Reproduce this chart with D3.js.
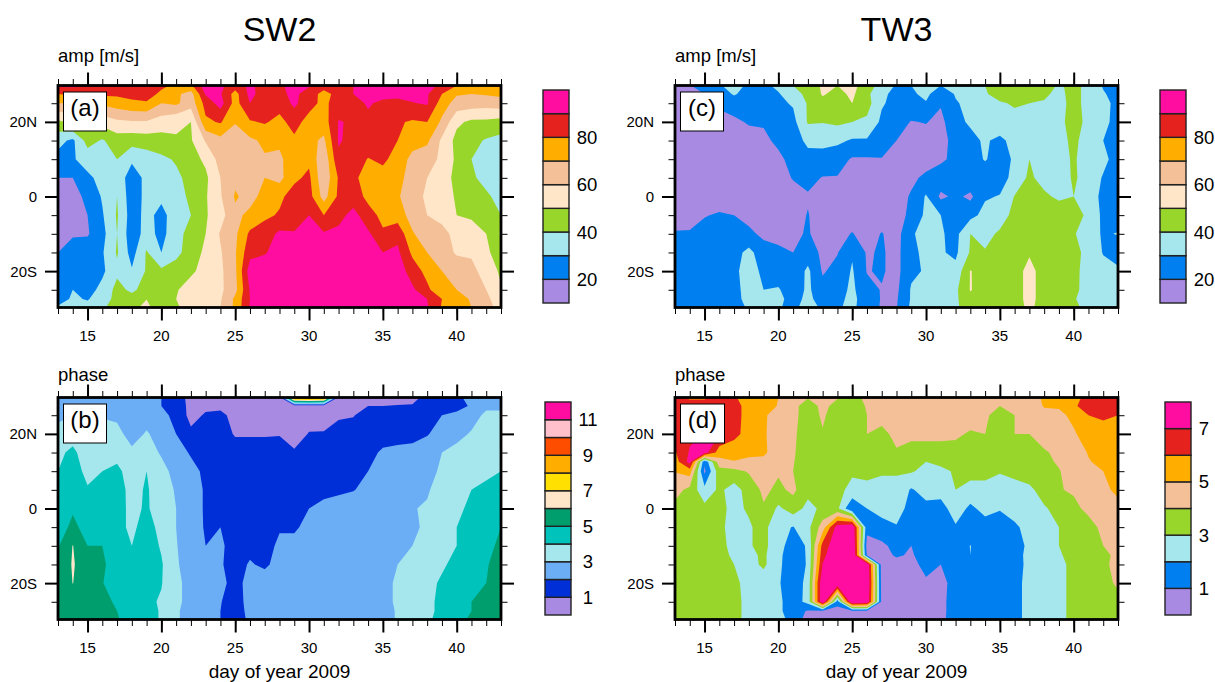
<!DOCTYPE html>
<html>
<head>
<meta charset="utf-8">
<script src="https://d3js.org/d3.v7.min.js"></script>
<style>
  body { margin: 0; background: #fff; }
  text { font-family: "Liberation Sans", Helvetica, Arial, sans-serif; fill: #000; }
</style>
</head>
<body>
<svg id="chart" width="1215" height="682"></svg>
<script>
const days = d3.range(13, 44);
const xMajor = [15, 20, 25, 30, 35, 40];
const yMajor = [20, 0, -20];
const yMinor = [25, 15, 10, 5, -5, -10, -15, -25];

const lats = [29.75, 27.5, 25, 20, 15, 10, 5, 0, -5, -10, -15, -20, -25, -27.5, -29.75];
const latsD = [29.75, 27.5, 25, 20, 15, 12.5, 10, 5, 0, -5, -10, -12.5, -15, -20, -25, -27.5, -29.75];

const ampLevels = [20, 30, 40, 50, 60, 70, 80, 90];
const ampColors = ['#a98ae3', '#0080f0', '#a6e6ed', '#98d62b', '#ffe6c8', '#f4c097', '#ffae00', '#e6221f', '#ff0da0'];
const ampLabels = [20, 40, 60, 80];

const phaseLevelsB = [1, 2, 3, 4, 5, 6, 7, 8, 9, 10, 11];
const phaseColorsB = ['#a98ae3', '#002fd8', '#6baef6', '#a6e6ed', '#00c3bc', '#009e6d', '#ffe6c8', '#ffe000', '#ffae00', '#ff4d00', '#ffc0cb', '#ff0da0'];
const phaseLabelsB = [1, 3, 5, 7, 9, 11];

const phaseLevelsD = [1, 2, 3, 4, 5, 6, 7];
const phaseColorsD = ['#a98ae3', '#0080f0', '#a6e6ed', '#98d62b', '#f4c097', '#ffae00', '#e6221f', '#ff0da0'];
const phaseLabelsD = [1, 3, 5, 7];

// values, one row per latitude, one column per day
const ampSW2 = [
  [92,92,91,91,91,91,91,82,78,78,96,92,85,92,86,89,92,91,85,85,90,93,94,94,94,93,88,80,79,80,82],
  [80,82,82,82,82,83,84,78,72,66,91,91,76,93,85,88,92,86,76,84,90,92,93,93,93,91,80,71,70,71,72],
  [70,70,70,72,75,78,79,70,72,64,84,94,76,90,85,84,92,84,77,86,87,91,88,87,89.5,91,75,66,65,64,66],
  [48,52,52,54,58,59,59,55,51,50,78,81,70.5,79,81,77,84,76,75,90.5,89,88,86,81,79,80,68,52,48,48,46],
  [33,28,44,39,45,44,45,46,49.5,49,61,67,66,68,72,71,78,73,68,91,87,86,84,80,74,72,58,47,43,39,37],
  [27,29,34,36,40,32,35,38,41,46,52,64,68,69,69,69,73,78,62,88,85,79.5,82,76,67,64,58,48,40,38,36],
  [20,20,28,33,37,24,33,37,38,43,48,60,68,69,70,67,78,82,62,81,81,78,76,73,66,60,55,47,41,38,35],
  [15,17,22,31,40,24,33,32,36,42,49,59,71,67,73,78,84,84,66,82,84,78,75,71,65,58,54,49,46,41,38],
  [14,15,20,29,41,25,33,27,35,40,49,56,68,72,78,81,84,90,80,86,94,83,78,75,66,60,58,50,49,44,40],
  [14,19,19,27,40,24,34,27,36,44,50,61,68,82,85,92,91,95,91,93,97,92,81,87,71,64,62,58,53,50,39],
  [20,24,26,29,41,26,41,30,37,45,52,59,69,87,89,95,98,98,98,98,97,96,90,92,78,70,64,59,59,53,42],
  [21,22,24,28,38,31,41,42,45,48,54,58,68,95,97,98,98,98,98,98,98,98,98,96,85,77,70,65,62,57,48],
  [22,30,26,33,43,38,44,45,49,55,56,58,67,91,99,99,99,99,99,99,99,99,99,99,92,82,73,70,65,60,51],
  [24,32,29,37,42,44,49.9,47,50,56,57,59,72,90,99,99,99,99,99,99,99,99,99,99,97,90,80,74,69,62,55],
  [32,33,35,39,43,48,52,45,49,53,56,60,72,91,99,99,99,99,99,99,99,99,99,99,97,91,79,75,70,62,58]
];

const ampTW3 = [
  [16,19,30.5,29,34,28,27,33,40,46,51,50,53,45,36,29,30,36,30,31,37,40,44,45,44,44,39,42,38,29,25],
  [16,17,20,25,31,26,27,29,37,42,51,47,52,42,33,26,28,33,22,31,35,39,44,44,41,42,37,44,36,31,26],
  [18,16,16,22,25,26,27,28,31,41,47,46,50,44,31,27,27,29,21,29,33,36,39,41,40,39,36,44,36,33,27],
  [17,16,16,16,18,21,21,25,27,41,40.5,42,40,38,28,24,19.5,20.5,17,28,31,34,36,37,38,38,38,43,38,33,26],
  [15,15,15,15,15,16,18,22,26,32,33,32,29,29,26,20,17,16,16,24,28,31,28,33,36,37,37,42,36,30,24],
  [15,15,15,15,15,15,16,18,23,27,26,24,19,19,19.5,17,15,16,18,23,27,30.5,27,31,40,37,37,41,36,33,25],
  [15,15,15,15,15,15,15,17,20.5,23,19.5,19.5,18,17,16,16,18,22,26,25,27,26,26,33,42,36,36,41,37,29,25],
  [15,15,15,15,15,15,15,15,17,19,17,16,15,15,15,16,21,31,18,22,18,29,30.5,40.5,45,42,38,40,36,27,25],
  [15,16,19.5,21,20,17,19,17,16,20.5,15,15,15,15,15,15,23,32,30,24,27,33,37,42,45,46,47,46,37,28,25],
  [21,21,23,23,23,22,18,17,18,21,15,17,20.5,16,20.5,16,29,33,31,27,40,38,41,45,46,47,47,41,34,29,30.5],
  [24,24,24,25,26,33,24,22,20,25,18,19.5,29,19,21,17,28,32,31,28,41,40.5,45,46,49,47,47,44,36,29.5,25],
  [25,25,26,26,27,36,27,24,23,32,19,23,31,19.5,21,17,28,31,34,33,50.5,45,46,46,53,46,46,44,34,33,32],
  [25,25,25,25,26,35,30,31,24,32,23,26,32,23,19.5,18,31,35,36,38,50.5,46,46,46,53,46,46,43,35,34,33],
  [25,25,25,25,27,33,36,34,24,34,23,27,33,24,19.5,19,31,36,37,38,48,47,46,46,53,46,46,41,35,34,33],
  [25,26,26,26,27,31,36,31,27,35,28,29,32,25,19,19.5,32,37,38,39,43,46,46,46,52,46,46,43,36,34,33]
];

const phaseSW2 = [
  [2.5,2.5,2.5,2.5,2.5,2.5,2.3,2,1.3,.8,.6,.5,.4,.4,.4,.4,9.5,10,9.5,.5,.5,.5,.5,.6,.8,1.2,1.5,1.8,2.3,2.5,2.6],
  [2.6,2.6,2.6,2.6,2.5,2.5,2.3,2,1.4,.8,.8,.7,.5,.4,.4,.4,.4,.4,.4,.5,.6,1,1,1.05,1.05,1.2,1.4,1.7,2.1,2.8,2.8],
  [2.8,3,3,2.9,2.8,2.7,2.6,2.3,1.7,.7,1.1,1.3,.6,.8,.8,.7,.5,.6,.7,.9,.95,1.4,1.5,1.5,1.5,1.6,2,2.2,2.6,3.2,3.2],
  [3.3,3.6,3.6,3.5,3.3,2.6,3.1,2.6,2,1.2,1.4,1.5,.9,.9,.9,.95,.6,1.05,1.05,1.3,1.4,1.6,1.7,1.7,1.7,1.95,2.3,2.7,3.1,3.4,3.4],
  [3.8,4.2,3.5,3.6,3.7,3.2,3.4,2.9,2.4,1.9,1.6,1.6,1.5,1.5,1.5,1.4,1.1,1.3,1.4,1.5,1.6,1.8,2.1,2.2,2.3,2.4,3,3.3,3.5,3.6,3.7],
  [4,4.5,3.7,4,4.2,3.6,4,3.3,2.7,2.3,1.8,1.6,1.6,1.6,1.5,1.5,1.3,1.4,1.5,1.6,1.7,2,2.3,2.5,2.6,2.8,3.1,3.5,3.6,3.8,4],
  [4.3,4.6,4.1,4.4,4.4,3.7,4.1,3.5,2.9,2.4,1.9,1.7,1.6,1.6,1.6,1.6,1.5,1.6,1.7,1.8,1.95,2.3,2.6,2.7,2.8,2.9,3.4,3.8,4,4.2,4.4],
  [4.4,4.9,4.5,4.4,4.3,3.8,4.1,3.6,3,2.4,1.9,1.7,1.7,1.6,1.6,1.6,1.8,2,2.3,2.5,2.6,2.7,2.8,2.9,2.95,3.1,3.4,3.8,4.2,4.4,4.6],
  [4.6,5.2,4.7,4.5,4.3,3.8,4.4,3.7,3,2.5,1.9,2,1.7,1.6,1.7,1.9,1.9,2.2,2.4,2.6,2.7,2.7,2.7,2.8,2.9,3.1,3.5,4,4.1,4.5,5],
  [4.9,6.03,5,5,4.3,4,4.5,3.9,3.05,2.5,2,2.2,1.5,1.7,1.6,2.2,2.2,2.6,2.7,2.7,2.8,2.8,2.8,2.8,3,3.5,3.8,4,4.3,4.6,5.3],
  [5.1,6.1,5.4,5.2,4.4,4.2,4.5,4.1,3.1,2.6,2.4,2.1,1.6,2.1,1.8,2.4,2.5,2.7,2.7,2.8,2.8,2.8,2.8,3,3.2,3.5,3.9,4.2,4.5,4.9,5.5],
  [5.1,6.02,5.4,5.05,4.4,4.2,4.3,4.05,3.2,2.7,2.5,2.3,1.6,2.4,2.6,2.7,2.7,2.8,2.8,2.8,2.8,2.8,2.8,3.1,3.4,3.8,4.1,4.4,4.6,5,5.6],
  [5.2,5.5,5.4,5.2,4.9,4.4,4.2,3.9,3.2,2.7,2.5,2.05,1.5,2.4,2.6,2.7,2.7,2.8,2.8,2.8,2.8,2.8,2.8,3.1,3.4,3.8,4.2,4.6,5,5.4,5.7],
  [5.2,5.5,5.4,5.2,5,4.5,4.2,3.95,3.1,2.7,2.4,2,1.5,2.3,2.6,2.7,2.7,2.8,2.8,2.8,2.8,2.8,2.8,3.05,3.4,3.8,4.2,4.7,5,5.4,5.6],
  [5.2,5.5,5.4,5.2,5.1,4.5,4.2,3.95,3.1,2.7,2.4,2,1.5,2.2,2.6,2.7,2.7,2.8,2.8,2.8,2.8,2.8,2.8,3.05,3.4,3.9,4.2,4.8,5.1,5.4,5.6]
];

const phaseTW3 = [
  [6.1,5.9,5.9,6.5,6.1,5.6,5.3,5,4.6,4.1,4.3,4.1,3.7,4.2,4.4,4.5,4.5,4.5,4.5,4.5,4.5,4.5,4.5,4.5,4.7,5.1,5.4,5.8,6.2,6.5,6.5],
  [6.3,6.3,6.3,6.8,6.3,5.7,5.4,4.95,4.5,3.2,4.4,3.5,3.4,4.1,4.4,4.5,4.5,4.5,4.5,4.5,4.5,4.4,4,4.3,4.6,5.05,5.1,5.9,6.3,6.6,6.6],
  [6.5,6.7,6.7,6.9,6.3,5.7,5.1,4.7,4.4,3.3,4.2,3.3,3.2,4,4.4,4.5,4.4,4.4,4.4,4.4,4.4,4.2,3.5,4,4.5,4.8,4.8,5.2,6,6.2,6],
  [6.4,6.8,7,7,6.3,5.6,5.1,4.6,4.2,3.4,3.9,3.2,3.2,4,3.7,4.3,4.2,4.2,4.2,4.15,3.9,4,3.4,4,4,4.4,4.6,4.9,5.4,5.5,5.5],
  [5.9,7.1,7.5,5.5,5.4,5.2,5.2,4.4,4.1,3.5,3.3,3.2,3.2,3.4,3.5,3.9,3.7,3.7,3.7,3.7,3.7,3.7,3.5,3.5,3.5,3.9,4.2,4.6,5.05,5.4,5.5],
  [5.5,7.4,1.2,4.6,4.95,4.8,4.7,4.3,4.05,3.5,3.3,3.2,3.2,3.3,3.3,3.5,3.4,3,3.2,3.4,3.6,3.6,3.3,3.4,3.5,3.8,4.1,4.5,4.95,5.2,5.4],
  [5.05,5.5,.8,3.6,3.7,4.1,4.2,4.1,4,3.4,3.2,3.2,3.1,3.2,3.1,3.1,3.1,2.7,2.8,3.1,3.4,3.4,3.1,3.3,3.5,3.7,3.95,4.4,4.7,5,5.3],
  [4.4,3.7,2.3,3.2,2.6,3.4,4.2,3.8,4.2,3.3,3.3,3.2,2.8,2.8,2.7,2.7,1.9,2.4,2.4,3,2.6,2.6,2.4,2.6,2.8,3.4,3.95,4.1,4.5,4.7,5.3],
  [3.7,3.4,3.3,3.2,2.8,3.1,3.9,2.8,3.5,2.7,3.2,3.2,1,2,2.4,2.6,1.5,1.7,1.6,2.5,1.8,2.3,2.1,2.5,2.7,2.9,3.3,3.8,4.2,4.4,4.6],
  [3.5,3.5,3.5,3.3,2.5,2.9,3.3,2.3,1.95,2.7,4.5,7.5,8,1.3,1.6,1.9,1.4,1.2,1.3,1.9,1.4,1.6,1.3,1.8,2.4,2.7,3,3.4,3.7,4.2,4.3],
  [3.5,3.5,3.5,3.3,2.7,2.9,3.3,2.3,1.6,2.1,6.4,7.8,8.5,.6,.8,1.3,1,1.6,1.5,1.5,2.02,1.6,1.4,1.6,2.2,2.7,3,3.4,3.7,4,4.2],
  [3.5,3.5,3.5,3.4,2.8,2.7,3.2,2.2,1.5,2.1,6.7,8,8.5,.9,.7,1.1,.9,1.4,1.4,1.5,2,1.6,1.4,1.6,2.3,2.6,2.9,3.3,3.6,3.9,4.1],
  [3.5,3.5,3.5,3.4,3,2.6,3.2,2.2,1.4,2.1,7.05,8.2,8.5,8,.5,.7,.8,1.2,1,1.5,1.5,1.5,1.4,1.7,2.2,2.5,2.8,3.2,3.5,3.8,4.3],
  [3.5,3.5,3.5,3.5,3.2,2.7,2.4,2.1,1.4,2.3,8,8,8.5,8.3,.6,.5,.6,.9,.6,1.5,1.5,1.5,1.5,1.8,2.2,2.5,2.8,3.2,3.4,3.6,4.2],
  [3.5,3.5,3.5,3.5,3.2,2.8,2.4,2.2,1.5,2.3,8,1.4,8.3,8,.7,.5,.5,.6,.7,1.5,1.5,1.5,1.5,1.8,2.2,2.5,2.8,3.2,3.4,3.5,3.6],
  [3.5,3.5,3.5,3.5,3.2,2.8,2.4,2.2,1.5,.9,.7,.6,.7,.7,.95,.5,.5,.6,.7,1.5,1.5,1.5,1.5,1.8,2.2,2.5,2.8,3.2,3.4,3.5,3.5],
  [3.5,3.5,3.5,3.4,3.2,2.8,2.5,2.4,1.6,.6,.6,.6,.6,.6,.95,.5,.5,.6,.8,1.4,1.5,1.5,1.5,1.8,2.2,2.5,2.8,3.2,3.4,3.5,3.5]
];

const svg = d3.select('#chart');
const panelW = 443;
const panelH = 222;

function latLabel(d) {
  if (d === 0) return '0';
  return Math.abs(d) + (d > 0 ? 'N' : 'S');
}

function drawPanel(opt) {
  const { id, left, top, rows, rowLats, levels, colors } = opt;
  const x = d3.scaleLinear().domain([13, 43]).range([left, left + panelW]);
  const y = d3.scaleLinear().domain([29.75, -29.75]).range([top, top + panelH]);
  const rowToLat = d3.scaleLinear().domain(d3.range(rowLats.length)).range(rowLats);

  svg.append('clipPath').attr('id', 'clip-' + id)
    .append('rect')
    .attr('x', left).attr('y', top)
    .attr('width', panelW).attr('height', panelH);

  const g = svg.append('g').attr('clip-path', `url(#clip-${id})`);

  g.append('rect')
    .attr('x', left).attr('y', top)
    .attr('width', panelW).attr('height', panelH)
    .attr('fill', colors[0]);

  const contours = d3.contours()
    .size([days.length, rowLats.length])
    .thresholds(levels)(rows.flat());

  const path = d3.geoPath(d3.geoTransform({
    point(px, py) {
      this.stream.point(x(days[0] + px - 0.5), y(rowToLat(py - 0.5)));
    }
  }));

  g.selectAll('path')
    .data(contours)
    .enter()
    .append('path')
    .attr('d', path)
    .attr('fill', (d, i) => colors[i + 1]);

  // major and minor ticks on all four sides
  const sides = [
    { axis: d3.axisBottom(x), at: [0, top + panelH], major: xMajor, minor: days },
    { axis: d3.axisTop(x), at: [0, top], major: xMajor, minor: days },
    { axis: d3.axisLeft(y), at: [left, 0], major: yMajor, minor: yMinor },
    { axis: d3.axisRight(y), at: [left + panelW, 0], major: yMajor, minor: yMinor }
  ];
  sides.forEach(s => {
    const minor = svg.append('g')
      .attr('transform', `translate(${s.at[0]},${s.at[1]})`)
      .call(s.axis.tickValues(s.minor).tickSize(6.5).tickFormat(''));
    minor.select('.domain').remove();
    minor.selectAll('line').attr('stroke-width', 1);
    const major = svg.append('g')
      .attr('transform', `translate(${s.at[0]},${s.at[1]})`)
      .call(s.axis.tickValues(s.major).tickSize(13).tickFormat(''));
    major.select('.domain').remove();
    major.selectAll('line').attr('stroke-width', 2);
  });

  // tick labels
  svg.append('g').selectAll('text')
    .data(xMajor)
    .enter()
    .append('text')
    .attr('x', d => x(d))
    .attr('y', top + panelH + 33)
    .attr('text-anchor', 'middle')
    .attr('font-size', 15)
    .text(d => d);

  svg.append('g').selectAll('text')
    .data(yMajor)
    .enter()
    .append('text')
    .attr('x', left - 21)
    .attr('y', d => y(d) + 5.5)
    .attr('text-anchor', 'end')
    .attr('font-size', 15)
    .text(latLabel);

  svg.append('rect')
    .attr('x', left).attr('y', top)
    .attr('width', panelW).attr('height', panelH)
    .attr('fill', 'none')
    .attr('stroke', '#000')
    .attr('stroke-width', 2.8);

  // panel letter
  svg.append('rect')
    .attr('x', left + 5.5).attr('y', top + 6.5)
    .attr('width', opt.boxW).attr('height', 39)
    .attr('fill', '#fff')
    .attr('stroke', '#000')
    .attr('stroke-width', 1);
  svg.append('text')
    .attr('x', left + 5.5 + opt.boxW / 2)
    .attr('y', top + 30.5)
    .attr('text-anchor', 'middle')
    .attr('font-size', 24)
    .text(opt.letter);

  svg.append('text')
    .attr('x', left)
    .attr('y', opt.subtitleY)
    .attr('font-size', 18.5)
    .text(opt.subtitle);

  if (opt.xlabel) {
    svg.append('text')
      .attr('x', left + panelW / 2)
      .attr('y', top + panelH + 58.5)
      .attr('text-anchor', 'middle')
      .attr('font-size', 19)
      .text(opt.xlabel);
  }

  // colour bar
  const bar = opt.bar;
  const band = d3.scaleBand()
    .domain(d3.range(colors.length))
    .range([bar.y + bar.h, bar.y]);

  svg.append('g').selectAll('rect')
    .data(colors)
    .enter()
    .append('rect')
    .attr('x', bar.x)
    .attr('y', (d, i) => band(i))
    .attr('width', bar.w)
    .attr('height', band.bandwidth())
    .attr('fill', d => d)
    .attr('stroke', '#222')
    .attr('stroke-width', 1.4);

  const fromLevel = d3.scaleLinear()
    .domain([levels[0], levels[1]])
    .range([bar.y + bar.h - band.bandwidth(), bar.y + bar.h - 2 * band.bandwidth()]);

  svg.append('g').selectAll('text')
    .data(opt.labels)
    .enter()
    .append('text')
    .attr('x', bar.labelX)
    .attr('y', d => fromLevel(d) + 6.5)
    .attr('text-anchor', 'middle')
    .attr('font-size', 18.5)
    .text(d => d);
}

drawPanel({
  id: 'a', left: 58, top: 85.5, rows: ampSW2, rowLats: lats,
  levels: ampLevels, colors: ampColors, labels: ampLabels,
  letter: '(a)', boxW: 43, subtitle: 'amp [m/s]', subtitleY: 62,
  bar: { x: 543, y: 90, w: 26, h: 213, labelX: 587 }
});
drawPanel({
  id: 'c', left: 675, top: 85.5, rows: ampTW3, rowLats: lats,
  levels: ampLevels, colors: ampColors, labels: ampLabels,
  letter: '(c)', boxW: 43, subtitle: 'amp [m/s]', subtitleY: 62,
  bar: { x: 1160, y: 90, w: 26, h: 213, labelX: 1204 }
});
drawPanel({
  id: 'b', left: 58, top: 397.5, rows: phaseSW2, rowLats: lats,
  levels: phaseLevelsB, colors: phaseColorsB, labels: phaseLabelsB,
  letter: '(b)', boxW: 43, subtitle: 'phase', subtitleY: 381, xlabel: 'day of year 2009',
  bar: { x: 545, y: 402, w: 26, h: 213, labelX: 588 }
});
drawPanel({
  id: 'd', left: 675, top: 397.5, rows: phaseTW3, rowLats: latsD,
  levels: phaseLevelsD, colors: phaseColorsD, labels: phaseLabelsD,
  letter: '(d)', boxW: 44, subtitle: 'phase', subtitleY: 381, xlabel: 'day of year 2009',
  bar: { x: 1165, y: 402, w: 26, h: 213, labelX: 1204 }
});

svg.append('text')
  .attr('x', 279.5).attr('y', 41)
  .attr('text-anchor', 'middle')
  .attr('font-size', 34)
  .text('SW2');
svg.append('text')
  .attr('x', 896.5).attr('y', 41)
  .attr('text-anchor', 'middle')
  .attr('font-size', 34)
  .text('TW3');
</script>
</body>
</html>
